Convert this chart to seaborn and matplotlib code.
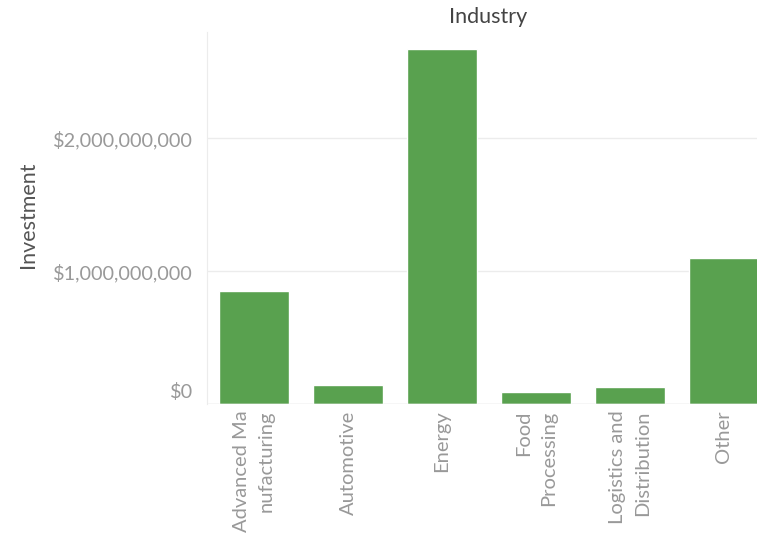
import pandas as pd
import matplotlib.pyplot as plt
import matplotlib.ticker as mticker
import seaborn as sns

industries = ['Advanced Ma\nnufacturing', 'Automotive', 'Energy', 'Food\nProcessing',
              'Logistics and\nDistribution', 'Other']
investment = [854e6, 145e6, 2669e6, 95e6, 132e6, 1098e6]

df = pd.DataFrame({'Industry': industries, 'Investment': investment})

sns.set_style('white')
plt.rcParams['font.family'] = ['Lato', 'DejaVu Sans']

W, H = 757, 540
PT = 72 / 100  # points per pixel at dpi 100
fig = plt.figure(figsize=(W / 100, H / 100), dpi=100)
# the last column runs past the right edge, as in the source
ax = fig.add_axes([207 / W, (H - 404.3) / H, (771 - 207) / W, (404.3 - 32) / H])

sns.barplot(data=df, x='Industry', y='Investment', color='#59A14F', width=0.755,
            saturation=1, ax=ax, zorder=3)

ax.set_xlim(-0.5, 5.5)
ax.set_ylim(0, 2.8e9)
ax.yaxis.set_major_locator(mticker.MultipleLocator(1e9))
# $0 is drawn separately, lifted above the baseline like Tableau does
ax.yaxis.set_major_formatter(mticker.FuncFormatter(lambda v, p: '' if v == 0 else f'${v:,.0f}'))
ax.grid(axis='y', color='#ececec', linewidth=1, zorder=0)

for s in ['top', 'right', 'bottom']:
    ax.spines[s].set_visible(False)
ax.spines['left'].set_color('#ececec')
ax.axhline(0, color='#e6e6e6', linewidth=1, zorder=4)

ax.tick_params(axis='y', length=9 * PT, color='#ececec', labelsize=14.3, labelcolor='#999999',
               pad=5 * PT)
ax.tick_params(axis='x', length=0, labelsize=14.5, labelcolor='#999999', pad=6 * PT)
ax.set_xticks(range(len(industries)))
ax.set_xticklabels(industries, rotation=90, ha='center', va='top', multialignment='right',
                   linespacing=1.55)
ax.set_xticks([i - 0.5 for i in range(len(industries) + 1)], minor=True)
ax.tick_params(axis='x', which='minor', length=8 * PT, color='#ececec')

ax.annotate('$0', xy=(0, 0), xycoords=('axes fraction', 'data'), xytext=(-14, 12),
            textcoords='offset pixels', ha='right', va='center', fontsize=14.3, color='#999999')

ax.set_xlabel('')
ax.set_ylabel('Investment', fontsize=15.5, color='#555555')
ax.yaxis.set_label_coords((38 - 207) / (771 - 207), (404.3 - 215) / (404.3 - 32))
fig.text(488 / W, 1 - 17 / H, 'Industry', ha='center', va='center', fontsize=15.5, color='#444444')

plt.savefig('out.png', dpi=100)
